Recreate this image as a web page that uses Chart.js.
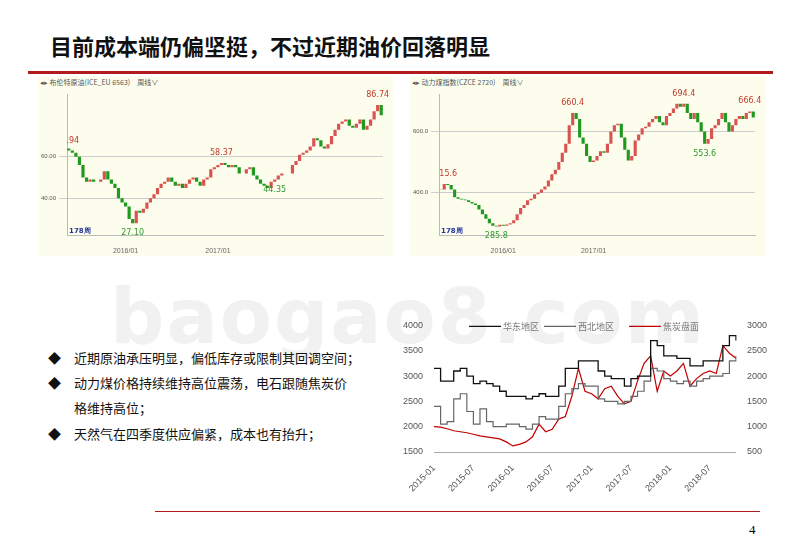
<!DOCTYPE html>
<html><head><meta charset="utf-8">
<script src="https://cdn.jsdelivr.net/npm/chart.js@4"></script>
<style>
body{margin:0;width:800px;height:553px;background:#fff;position:relative;overflow:hidden;font-family:"Noto Sans CJK SC",sans-serif;}
.abs{position:absolute;}
.panel{position:absolute;background:#fdfdee;}
.hdr{position:absolute;font-size:7px;color:#555;white-space:nowrap;}
.bl{position:absolute;left:48px;font-size:13px;color:#111;}
</style></head><body>
<div class="abs" style="left:50px;top:29px;font-size:22px;font-weight:bold;color:#111;">目前成本端仍偏坚挺，不过近期油价回落明显</div>
<div class="abs" style="left:28px;top:71px;width:745px;height:3px;background:#b01c1c;"></div>
<div class="abs" style="left:110px;top:272px;font-size:76px;font-family:'DejaVu Sans';font-weight:bold;color:rgba(200,200,200,0.25);letter-spacing:2px;">baogao8.com</div>

<div class="panel" style="left:38px;top:76px;width:355px;height:180px;"></div>
<div class="hdr" style="left:40px;top:77px;">◂▸ 布伦特原油(ICE_EU 6563)　周线∨</div>
<div class="abs" style="left:38px;top:88px;width:355px;height:170px;"><canvas id="c1"></canvas></div>

<div class="panel" style="left:410px;top:76px;width:355px;height:180px;"></div>
<div class="hdr" style="left:412px;top:77px;">◂▸ 动力煤指数(CZCE 2720)　周线∨</div>
<div class="abs" style="left:410px;top:88px;width:355px;height:170px;"><canvas id="c2"></canvas></div>

<div class="bl" style="top:348px;">◆　近期原油承压明显，偏低库存或限制其回调空间；</div>
<div class="bl" style="top:373px;">◆　动力煤价格持续维持高位震荡，电石跟随焦炭价</div>
<div class="bl" style="top:398px;">　　格维持高位；</div>
<div class="bl" style="top:424px;">◆　天然气在四季度供应偏紧，成本也有抬升；</div>

<div class="abs" style="left:400px;top:317px;width:370px;height:180px;"><canvas id="c3"></canvas></div>

<div class="abs" style="left:155px;top:511px;width:605px;height:1px;background:#b01c1c;"></div>
<div class="abs" style="left:749px;top:522px;font-size:13px;font-family:'Liberation Serif';">4</div>
<script>
// ---- data ----
const oilCloses=[63,62,60,56,50,48,49,48,48,49,53,49,47,45,40,38,
36,30,28,34,33,35,38,40,42,45,47,48,50,48,46,47,45,47,49,50,48,46,49,50,54,55,
56,57,56,55,56,55,52,52,54,55,51,49,47,46,45,48,49,51,52,52,52,56,58,61,62,63,
65,69,68,65,64,66,70,73,76,77,78,75,74,76,78,73,75,78,82,85,80];
const oilTicks={16:'2016/01',42:'2017/01'};
const oilYTicks=[40,60];
const oilNotes=[[0,'.94','#c0392b',-1],[18,'27.10','#2e9a2e',1],[43,'58.37','#c0392b',-1],[58,'44.35','#2e9a2e',1],[87,'86.74','#c0392b',-1]];

const coalCloses=[410,428,425,410,385,380,378,375,370,365,360,345,330,315,300,292,290,295,
292,296,300,310,330,350,360,375,380,395,400,410,420,440,460,475,500,530,560,620,660,640,580,560,520,500,
505,520,535,530,560,600,620,625,580,540,505,520,570,590,610,615,630,640,650,630,620,650,660,675,690,680,
690,660,640,660,630,600,560,575,610,620,640,660,630,600,620,640,650,640,660,665,645];
const coalTicks={18:'2016/01',44:'2017/01'};
const coalYTicks=[400,600];
const coalNotes=[[1,'15.6','#c0392b',-1],[16,'285.8','#2e9a2e',1],[38,'660.4','#c0392b',-1],[70,'694.4','#c0392b',-1],[76,'553.6','#2e9a2e',1],[89,'666.4','#c0392b',-1]];

const months=[];for(let y=2015;y<=2018;y++)for(let m=1;m<=12;m++){if(y===2018&&m>11)break;months.push(y+'-'+String(m).padStart(2,'0'));}
const huadong=[3150,2900,2900,3100,3150,3000,2850,2900,2850,2800,2700,2600,
2600,2600,2550,2600,2650,2600,2600,2800,3150,3150,3300,3300,
3300,3100,3000,2950,2950,2800,2950,3000,3000,3700,3600,3400,
3400,3350,3350,3200,3200,3300,3300,3300,3600,3800,3700];
const xibei=[2400,2050,2100,2550,2650,2300,2050,2350,2100,2000,2000,2050,
2050,2000,1950,2050,2200,2150,2150,2400,2650,2750,2850,2800,
2800,2550,2500,2500,2450,2500,2600,2700,2900,3150,3100,2950,
2900,2850,2900,2800,2900,2950,3000,3000,3050,3300,3400];
const jiaotan=[1000,990,960,920,900,880,850,820,800,780,760,700,
620,650,700,800,1050,900,950,1150,1200,1600,2150,1700,
1650,1550,1750,1800,1600,1450,1500,1900,2250,2400,1700,2100,
2000,2100,2250,1800,1950,2050,2100,2050,2600,2450,2350];

// ---- candlestick-like charts ----
function candle(id,closes,ticks,yt,notes,ymin,ymax,fmt){
  const labels=closes.map((_,i)=>i);
  const bodies=closes.map((c,i)=>[i?closes[i-1]:c+1,c]);
  const cols=closes.map((c,i)=>(i&&c>=closes[i-1])?'#d9534f':'#1f9a1f');
  const notePlugin={id:'n'+id,afterDatasetsDraw(ch){const c=ch.ctx,x=ch.scales.x,y=ch.scales.y;c.save();c.font='8px "DejaVu Sans"';c.textAlign='center';
    notes.forEach(([i,t,col,d])=>{c.fillStyle=col;c.fillText(t,x.getPixelForValue(i)+(i<2?4:0),y.getPixelForValue(closes[i])+(d<0?-8:12));});
    c.fillStyle='#223399';c.font='bold 7px "DejaVu Sans"';c.textAlign='left';c.fillText('178周',ch.chartArea.left+2,ch.chartArea.bottom-3);c.restore();}};
  new Chart(document.getElementById(id),{type:'bar',data:{labels,datasets:[{data:bodies,backgroundColor:cols,barPercentage:0.9,categoryPercentage:1}]},
   options:{responsive:true,maintainAspectRatio:false,animation:false,plugins:{legend:{display:false},tooltip:{enabled:false}},
    layout:{padding:{right:10,top:2}},
    scales:{x:{grid:{display:false},border:{color:'#bbb'},ticks:{autoSkip:false,maxRotation:0,font:{size:7},color:'#666',callback:(v)=>ticks[v]||''}},
     y:{min:ymin,max:ymax,border:{color:'#bbb'},afterBuildTicks:a=>{a.ticks=yt.map(v=>({value:v}));},grid:{color:'#ccc',borderDash:[2,2]},ticks:{font:{size:6},color:'#555',callback:fmt}}}},
   plugins:[notePlugin]});
}
candle('c1',oilCloses,oilTicks,oilYTicks,oilNotes,22,90,v=>v.toFixed(2));
candle('c2',coalCloses,coalTicks,coalYTicks,coalNotes,260,720,v=>v.toFixed(1));

// ---- line chart ----
const legendPlugin={id:'lg',afterDraw(ch){const c=ch.ctx,top=ch.chartArea.top+1;c.save();c.font='9px "Noto Sans CJK SC"';c.textBaseline='middle';
  const xs=[ch.chartArea.left+35,ch.chartArea.left+110,ch.chartArea.left+195];
  ch.data.datasets.forEach((d,i)=>{c.strokeStyle=d.borderColor;c.lineWidth=1.3;c.beginPath();c.moveTo(xs[i],top);c.lineTo(xs[i]+32,top);c.stroke();c.fillStyle='#777';c.fillText(d.label,xs[i]+34,top);});c.restore();}};
new Chart(document.getElementById('c3'),{type:'line',data:{labels:months,datasets:[
 {label:'华东地区',data:huadong,borderColor:'#111',borderWidth:1.3,pointRadius:0,stepped:true,yAxisID:'y'},
 {label:'西北地区',data:xibei,borderColor:'#666',borderWidth:1.2,pointRadius:0,stepped:true,yAxisID:'y'},
 {label:'焦炭盘面',data:jiaotan,borderColor:'#c00000',borderWidth:1.2,pointRadius:0,tension:0,yAxisID:'y1'}]},
 options:{responsive:true,maintainAspectRatio:false,animation:false,layout:{padding:{top:6}},
  plugins:{legend:{display:false},tooltip:{enabled:false}},
  scales:{x:{grid:{display:false},border:{color:'#aaa'},ticks:{autoSkip:false,maxRotation:45,minRotation:45,font:{size:9},color:'#555',callback:(v,i)=>(i%6===0)?months[i]:''}},
   y:{min:1500,max:4000,grid:{display:false},border:{display:false},ticks:{stepSize:500,font:{size:9},color:'#555',callback:v=>String(v)}},
   y1:{position:'right',min:500,max:3000,grid:{display:false},border:{display:false},ticks:{stepSize:500,font:{size:9},color:'#555',callback:v=>String(v)}}}},
 plugins:[legendPlugin]});
</script></body></html>
